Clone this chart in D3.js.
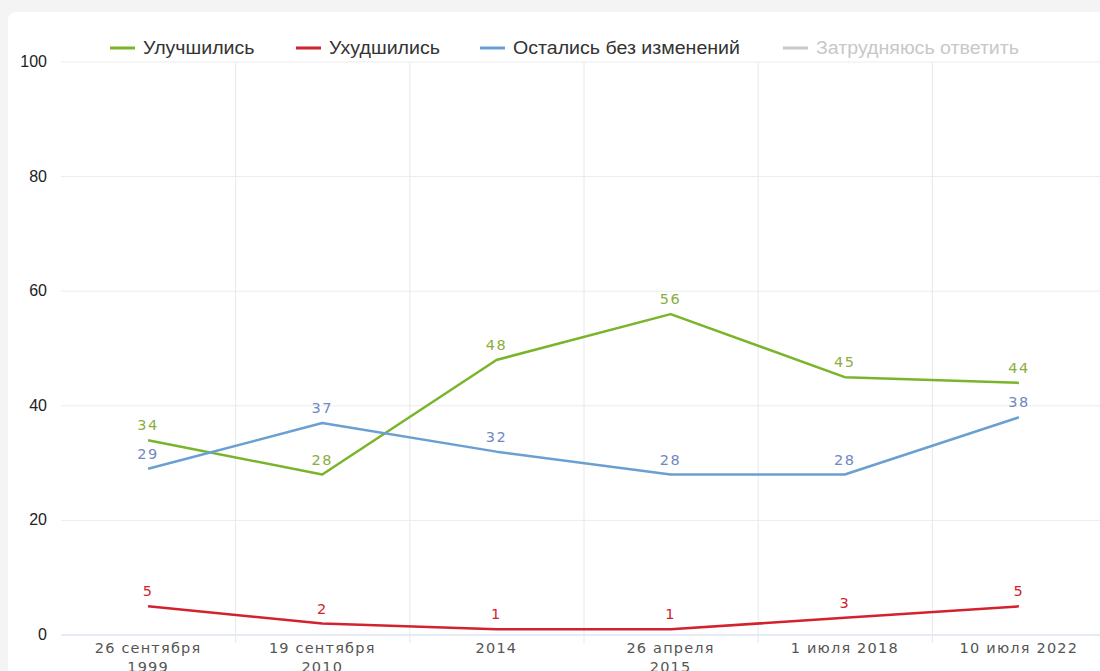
<!DOCTYPE html>
<html>
<head>
<meta charset="utf-8">
<script src="https://cdn.jsdelivr.net/npm/d3@7"></script>
<style>
  html, body { margin: 0; padding: 0; background: #f4f4f4; overflow: hidden; }
  #card { position: absolute; left: 8px; top: 12px; width: 1100px; height: 680px; background: #fff; border-radius: 8px; }
  svg { position: absolute; left: 0; top: 0; }
</style>
</head>
<body>
<div id="card"></div>
<svg id="chart" width="1100" height="671"></svg>
<script>
var categories = [["26 сентября", "1999"], ["19 сентября", "2010"], ["2014"], ["26 апреля", "2015"], ["1 июля 2018"], ["10 июля 2022"]];
var improved = [34, 28, 48, 56, 45, 44];
var worsened = [5, 2, 1, 1, 3, 5];
var unchanged = [29, 37, 32, 28, 28, 38];
var yTicks = [0, 20, 40, 60, 80, 100];
var legendNames = ["Улучшились", "Ухудшились", "Остались без изменений", "Затрудняюсь ответить"];
var legendColors = ["#7ab42a", "#d2222d", "#6a9fd2", "#c8c8c8"];

var svg = d3.select("#chart");
var plotLeft = 61, plotRight = 1106, plotTop = 62, plotBottom = 635;

var x = d3.scaleBand().domain(d3.range(categories.length)).range([plotLeft, plotRight]);
var y = d3.scaleLinear().domain([0, 100]).range([plotBottom, plotTop]);

// horizontal grid
svg.append("g").selectAll("line").data(yTicks).enter().append("line")
  .attr("x1", plotLeft).attr("x2", plotRight)
  .attr("y1", function (d) { return y(d); }).attr("y2", function (d) { return y(d); })
  .style("stroke", function (d) { return d === 0 ? "#ccd6eb" : "#ececec"; })
  .style("stroke-width", "1px");

// vertical grid at band boundaries
svg.append("g").selectAll("line").data(d3.range(1, categories.length)).enter().append("line")
  .attr("x1", function (d) { return x(d) + 0.5; }).attr("x2", function (d) { return x(d) + 0.5; })
  .attr("y1", plotTop).attr("y2", plotBottom + 8)
  .style("stroke", "#e4e8ee").style("stroke-width", "1px");

// y labels
svg.append("g").selectAll("text").data(yTicks).enter().append("text")
  .attr("x", 47).attr("y", function (d) { return y(d) + 5; })
  .attr("text-anchor", "end")
  .style("font-family", "Liberation Sans, Arial, sans-serif")
  .style("font-size", "16px").style("fill", "#222")
  .text(function (d) { return d; });

// x labels
var xl = svg.append("g").selectAll("text").data(categories).enter().append("text")
  .attr("x", function (d, i) { return x(i) + x.bandwidth() / 2; })
  .attr("y", 653)
  .attr("text-anchor", "middle")
  .style("font-family", "DejaVu Sans, Verdana, sans-serif")
  .style("font-size", "14.5px").style("letter-spacing", "1.2px").style("fill", "#555");
xl.selectAll("tspan").data(function (d) { return d; }).enter().append("tspan")
  .attr("x", function () { return d3.select(this.parentNode).attr("x"); })
  .attr("dy", function (d, i) { return i === 0 ? 0 : 19; })
  .text(function (d) { return d; });

var series = [
  { values: improved, color: "#7ab42a", label: "#8aae3e" },
  { values: worsened, color: "#d2222d", label: "#d2222d" },
  { values: unchanged, color: "#6a9fd2", label: "#6f88c0" }
];

var line = d3.line()
  .x(function (d, i) { return x(i) + x.bandwidth() / 2; })
  .y(function (d) { return y(d); });

series.forEach(function (s) {
  svg.append("path").datum(s.values)
    .attr("d", line)
    .style("fill", "none").style("stroke", s.color).style("stroke-width", "2.5px")
    .style("stroke-linejoin", "round");
  svg.append("g").selectAll("text").data(s.values).enter().append("text")
    .attr("x", function (d, i) { return x(i) + x.bandwidth() / 2; })
    .attr("y", function (d) { return y(d) - 10; })
    .attr("text-anchor", "middle")
    .style("font-family", "DejaVu Sans, Verdana, sans-serif")
    .style("font-size", "14.5px").style("letter-spacing", "1.5px")
    .style("fill", s.label)
    .text(function (d) { return d; });
});

// legend
var lx = [110, 296, 480, 783];
var lg = svg.append("g").selectAll("g").data(legendNames).enter().append("g")
  .attr("transform", function (d, i) { return "translate(" + lx[i] + ",48)"; });
lg.append("line").attr("x1", 0).attr("x2", 25).attr("y1", 0).attr("y2", 0)
  .style("stroke", function (d, i) { return legendColors[i]; }).style("stroke-width", "3px");
lg.append("text").attr("x", 33 / 1.12).attr("y", 6)
  .attr("transform", "scale(1.12,1)")
  .style("font-family", "Liberation Sans, Arial, sans-serif")
  .style("font-size", "17.5px")
  .style("fill", function (d, i) { return i === 3 ? "#c8c8c8" : "#333"; })
  .text(function (d) { return d; });
</script>
</body>
</html>
